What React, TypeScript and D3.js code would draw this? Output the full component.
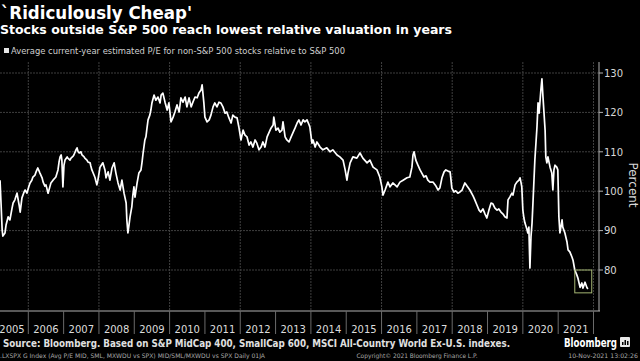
import React from "react";
import * as d3 from "d3";

const titleText = "`Ridiculously Cheap'";
const subtitleText = "Stocks outside S&P 500 reach lowest relative valuation in years";
const legendLabel = "Average current-year estimated P/E for non-S&P 500 stocks relative to S&P 500";
const sourceText = "Source: Bloomberg. Based on S&P MidCap 400, SmallCap 600, MSCI All-Country World Ex-U.S. indexes.";
const tickerText = ".LXSPX G Index (Avg P/E MID, SML, MXWDU vs SPX) MID/SML/MXWDU vs SPX  Daily 01JA";
const copyrightText = "Copyright\u00A9 2021 Bloomberg Finance L.P.";
const stampText = "10-Nov-2021 13:02:26";
const brandText = "Bloomberg";
const yAxisTitle = "Percent";

const yearLabels = [2005, 2006, 2007, 2008, 2009, 2010, 2011, 2012, 2013, 2014, 2015, 2016, 2017, 2018, 2019, 2020, 2021];
const yearBoundaries = [2006, 2007, 2008, 2009, 2010, 2011, 2012, 2013, 2014, 2015, 2016, 2017, 2018, 2019, 2020, 2021, 2022];
const gridYears = [2006, 2008, 2010, 2012, 2014, 2016, 2018, 2020, 2022];
const valueTicks = [80, 90, 100, 110, 120, 130];
const highlightYears = [2021.47, 2021.95];
const highlightValues = [74.2, 80];

// decimal years
const dates = [
  2005.20, 2005.23, 2005.26, 2005.28, 2005.34, 2005.37, 2005.43, 2005.48, 2005.54, 2005.57, 2005.62, 2005.68, 2005.74, 2005.77, 2005.82, 2005.88, 2005.91, 2005.96,
  2006.02, 2006.05, 2006.10, 2006.13, 2006.19, 2006.22, 2006.27, 2006.33, 2006.39, 2006.42, 2006.47, 2006.50, 2006.56, 2006.61, 2006.64, 2006.70, 2006.78, 2006.84, 2006.87, 2006.90, 2006.93, 2006.95, 2006.98,
  2007.01, 2007.04, 2007.10, 2007.12, 2007.18, 2007.21, 2007.27, 2007.29, 2007.35, 2007.38, 2007.41, 2007.44, 2007.49, 2007.52, 2007.58, 2007.60, 2007.66, 2007.69, 2007.75, 2007.77, 2007.80, 2007.86, 2007.89, 2007.92, 2007.94, 2007.97,
  2008.03, 2008.11, 2008.17, 2008.20, 2008.26, 2008.31, 2008.37, 2008.43, 2008.48, 2008.54, 2008.60, 2008.65, 2008.71, 2008.77, 2008.79, 2008.82, 2008.85, 2008.88, 2008.93, 2008.96, 2008.99,
  2009.02, 2009.08, 2009.13, 2009.19, 2009.22, 2009.25, 2009.30, 2009.33, 2009.36, 2009.39, 2009.44, 2009.47, 2009.50, 2009.56, 2009.61, 2009.67, 2009.73, 2009.76, 2009.81, 2009.87, 2009.93, 2009.98,
  2010.04, 2010.10, 2010.15, 2010.21, 2010.27, 2010.32, 2010.38, 2010.44, 2010.49, 2010.55, 2010.61, 2010.66, 2010.72, 2010.78, 2010.83, 2010.89, 2010.92, 2010.94, 2010.97,
  2011.00, 2011.06, 2011.12, 2011.17, 2011.23, 2011.28, 2011.34, 2011.40, 2011.45, 2011.51, 2011.57, 2011.62, 2011.68, 2011.74, 2011.79, 2011.85, 2011.91, 2011.96,
  2012.02, 2012.08, 2012.13, 2012.19, 2012.25, 2012.30, 2012.36, 2012.42, 2012.47, 2012.53, 2012.59, 2012.64, 2012.70, 2012.76, 2012.81, 2012.87, 2012.93, 2012.95,
  2013.01, 2013.07, 2013.12, 2013.18, 2013.21, 2013.27, 2013.32, 2013.38, 2013.44, 2013.49, 2013.55, 2013.61, 2013.66, 2013.72, 2013.78, 2013.83, 2013.89, 2013.95, 2013.97,
  2014.03, 2014.06, 2014.12, 2014.17, 2014.26, 2014.34, 2014.45, 2014.54, 2014.62, 2014.74, 2014.82, 2014.91, 2014.97,
  2015.02, 2015.05, 2015.11, 2015.19, 2015.30, 2015.39, 2015.47, 2015.59, 2015.67, 2015.76, 2015.87, 2015.95,
  2016.01, 2016.04, 2016.10, 2016.18, 2016.24, 2016.32, 2016.44, 2016.52, 2016.61, 2016.72, 2016.80, 2016.86, 2016.89, 2016.92, 2016.97,
  2017.03, 2017.09, 2017.14, 2017.20, 2017.26, 2017.31, 2017.37, 2017.46, 2017.54, 2017.60, 2017.65, 2017.71, 2017.77, 2017.82, 2017.88, 2017.94, 2017.96, 2017.99,
  2018.05, 2018.10, 2018.16, 2018.22, 2018.28, 2018.36, 2018.42, 2018.50, 2018.59, 2018.64, 2018.70, 2018.76, 2018.81, 2018.87, 2018.93, 2018.98,
  2019.04, 2019.10, 2019.15, 2019.21, 2019.27, 2019.32, 2019.38, 2019.44, 2019.49, 2019.55, 2019.58, 2019.63, 2019.69, 2019.72, 2019.78, 2019.83, 2019.89, 2019.92, 2019.95, 2019.97,
  2020.00, 2020.03, 2020.06, 2020.12, 2020.14, 2020.17, 2020.20, 2020.23, 2020.26, 2020.29, 2020.34, 2020.40, 2020.43, 2020.46, 2020.51, 2020.54, 2020.57, 2020.63, 2020.65, 2020.68, 2020.71, 2020.77, 2020.82, 2020.85, 2020.88, 2020.91, 2020.96, 2020.99,
  2021.02, 2021.05, 2021.11, 2021.13, 2021.19, 2021.25, 2021.28, 2021.33, 2021.39, 2021.42, 2021.47, 2021.53, 2021.56, 2021.62, 2021.67, 2021.70, 2021.76, 2021.81, 2021.84,
];

// relative P/E, percent
const values = [
  102.8, 96.5, 90.2, 88.6, 89.4, 91.4, 93.5, 92.7, 95.7, 97.0, 97.8, 99.5, 96.5, 94.7, 98.3, 99.8, 100.3, 99.5,
  101.3, 102.1, 102.8, 103.6, 104.1, 104.9, 105.9, 104.6, 103.4, 102.3, 101.3, 101.6, 99.5, 101.1, 102.1, 102.8, 103.6, 105.4, 107.4, 108.7, 109.2, 107.9, 101.1,
  106.6, 107.9, 108.7, 108.4, 107.9, 108.4, 108.9, 109.2, 110.5, 111.0, 110.0, 109.7, 110.0, 109.2, 108.7, 108.4, 107.9, 107.4, 107.2, 106.4, 105.4, 104.1, 103.4, 102.3, 101.6, 102.8,
  106.1, 107.2, 105.4, 103.4, 104.9, 102.8, 105.9, 107.2, 104.6, 102.1, 100.3, 102.8, 99.5, 97.0, 92.7, 89.4, 91.4, 93.5, 96.0, 99.0, 101.1,
  98.5, 102.1, 104.6, 105.4, 107.4, 109.7, 113.0, 113.8, 116.0, 118.1, 119.3, 120.6, 122.4, 124.4, 123.1, 123.9, 122.4, 124.4, 124.9, 122.6, 120.6, 122.4,
  117.6, 118.8, 120.1, 121.9, 120.1, 123.7, 122.6, 123.9, 121.4, 123.7, 121.4, 122.6, 123.9, 123.7, 124.9, 125.7, 127.0, 125.2, 122.4,
  118.8, 117.6, 118.1, 119.3, 121.4, 122.4, 121.4, 122.6, 122.4, 121.4, 119.8, 120.1, 118.6, 117.3, 119.3, 118.8, 118.6, 116.3,
  113.0, 115.5, 114.3, 113.8, 111.7, 112.5, 111.2, 113.0, 112.2, 110.5, 111.2, 112.5, 111.2, 113.8, 114.8, 116.0, 116.8, 118.8,
  115.5, 116.0, 115.0, 115.5, 117.6, 113.8, 113.0, 112.5, 113.8, 114.8, 116.0, 117.3, 118.1, 116.8, 118.1, 117.6, 118.1, 116.8, 116.3,
  112.2, 113.0, 111.2, 112.5, 111.2, 110.5, 111.0, 110.0, 110.5, 109.2, 108.7, 107.9, 105.4,
  102.8, 104.6, 107.2, 108.7, 108.4, 109.7, 108.4, 107.2, 107.9, 106.1, 105.4, 103.6,
  101.1, 99.0, 100.3, 102.3, 101.1, 102.1, 101.1, 102.3, 102.8, 103.4, 103.6, 106.1, 109.2, 110.0, 107.9,
  106.6, 105.4, 104.6, 103.6, 103.9, 102.8, 102.3, 102.3, 101.3, 100.3, 100.8, 103.4, 104.9, 105.4, 105.1, 104.9, 103.4, 100.8,
  99.8, 100.1, 99.5, 99.8, 100.3, 102.1, 101.3, 100.3, 98.8, 97.8, 96.5, 95.2, 94.7, 95.5, 94.2, 93.2,
  95.2, 97.0, 96.8, 95.7, 95.2, 95.5, 94.7, 94.2, 93.5, 93.2, 97.8, 98.5, 99.5, 99.0, 101.6, 102.3, 102.8, 103.4, 102.1, 101.1,
  95.2, 93.2, 91.9, 90.2, 89.4, 90.9, 80.5, 88.4, 91.9, 97.8, 107.9, 116.3, 122.4, 119.8, 125.7, 128.5, 123.9, 115.5, 108.7, 107.2, 108.7, 106.1, 104.6, 100.3, 105.4, 106.6, 106.1, 105.4,
  93.5, 89.4, 92.7, 90.9, 89.4, 87.1, 85.1, 84.6, 83.3, 82.5, 80.0, 78.7, 77.9, 75.6, 76.7, 75.4, 76.9, 75.6, 75.2,
];

const FONT = "'DejaVu Sans', Verdana, sans-serif";

export default function App() {
  const W = 640;
  const H = 361;
  const plot = { left: 0, right: 599, top: 62, bottom: 311 };

  const x = d3.scaleLinear().domain([2006, 2022]).range([28.3, 593.5]);
  const y = d3.scaleLinear().domain([80, 130]).range([270, 73]);

  const n = Math.min(dates.length, values.length);
  const idx = d3.range(n);
  const linePath = d3
    .line<number>()
    .x((i) => x(dates[i]))
    .y((i) => y(values[i]))(idx) || "";

  const hx0 = x(highlightYears[0]);
  const hx1 = x(highlightYears[1]);
  const hy0 = y(highlightValues[1]);
  const hy1 = y(highlightValues[0]);

  return (
    <div style={{ width: W, height: H, background: "#000" }}>
      <style>{`body{margin:0;background:#000;}`}</style>
      <svg width={W} height={H} viewBox={`0 0 ${W} ${H}`} style={{ display: "block", fontFamily: FONT }}>
        <rect x={0} y={0} width={W} height={H} fill="#000" />
        <defs>
          <clipPath id="plotClip">
            <rect x={plot.left} y={plot.top - 10} width={plot.right - plot.left} height={plot.bottom - plot.top + 10} />
          </clipPath>
        </defs>

        {/* Titles */}
        <text x={1} y={18.5} fill="#fff" fontSize={17} fontWeight="bold" textLength={191} lengthAdjust="spacingAndGlyphs">
          {titleText}
        </text>
        <text x={0} y={34.4} fill="#fff" fontSize={12.8} fontWeight="bold" textLength={452} lengthAdjust="spacingAndGlyphs">
          {subtitleText}
        </text>
        <rect x={4} y={48} width={5} height={5} fill="#e6e6e6" />
        <text x={11} y={54} fill="#d0d0d0" fontSize={9} textLength={334} lengthAdjust="spacingAndGlyphs">
          {legendLabel}
        </text>

        {/* Grid */}
        {valueTicks.map((v) => (
          <line key={"gy" + v} x1={plot.left} x2={plot.right} y1={y(v)} y2={y(v)} stroke="#3f3f3f" strokeWidth={1} strokeDasharray="2,1" />
        ))}
        {gridYears.map((yr) => (
          <line key={"gx" + yr} x1={x(yr)} x2={x(yr)} y1={plot.top} y2={plot.bottom} stroke="#3f3f3f" strokeWidth={1} strokeDasharray="2,1" />
        ))}

        {/* Series */}
        <g clipPath="url(#plotClip)">
          <path d={linePath} fill="none" stroke="#fff" strokeWidth={1.7} strokeLinejoin="round" />
        </g>

        {/* Highlight box */}
        <rect x={hx0} y={hy0} width={hx1 - hx0} height={hy1 - hy0} fill="none" stroke="#a4b573" strokeWidth={1} />

        {/* Right axis */}
        <line x1={plot.right} x2={plot.right} y1={plot.top} y2={plot.bottom} stroke="#b0b0b0" strokeWidth={1} />
        {valueTicks.map((v) => (
          <g key={"yt" + v}>
            <line x1={plot.right} x2={plot.right + 4} y1={y(v)} y2={y(v)} stroke="#b0b0b0" strokeWidth={1} />
            <text x={plot.right + 5} y={y(v) + 3.7} fill="#d8d8d8" fontSize={10}>
              {v}
            </text>
          </g>
        ))}
        <text
          transform={`translate(629,185) rotate(90)`}
          textAnchor="middle"
          fill="#d8d8d8"
          fontSize={12}
        >
          {yAxisTitle}
        </text>

        {/* Bottom axis */}
        <line x1={plot.left} x2={plot.right + 1} y1={plot.bottom} y2={plot.bottom} stroke="#b0b0b0" strokeWidth={1} />
        {yearBoundaries.map((yr) => (
          <line key={"yb" + yr} x1={x(yr)} x2={x(yr)} y1={plot.bottom} y2={334} stroke="#6a6a6a" strokeWidth={1} />
        ))}
        {yearLabels.map((yr) => (
          <text key={"yl" + yr} x={Math.max(x(yr + 0.5), 12)} y={333} textAnchor="middle" fill="#dcdcdc" fontSize={10}>
            {yr}
          </text>
        ))}

        {/* Footer */}
        <text x={3} y={346.6} fill="#e0e0e0" fontSize={10} fontWeight="bold" fontStretch="condensed" textLength={507} lengthAdjust="spacingAndGlyphs">
          {sourceText}
        </text>
        <text x={564} y={347} fill="#fff" fontSize={12.5} fontWeight="bold" textLength={53} lengthAdjust="spacingAndGlyphs">
          {brandText}
        </text>
        <g transform="translate(620,337)">
          <rect x={0} y={0} width={10} height={10} rx={1} fill="#e8e8e8" />
          <rect x={2} y={5} width={1.5} height={3} fill="#000" />
          <rect x={4.5} y={3} width={1.5} height={5} fill="#000" />
          <rect x={7} y={4} width={1.5} height={4} fill="#000" />
        </g>
        <text x={0} y={358} fill="#a8a8a8" fontSize={6.2} textLength={265} lengthAdjust="spacingAndGlyphs">
          {tickerText}
        </text>
        <text x={417} y={358} textAnchor="middle" fill="#a8a8a8" fontSize={6.2} textLength={121} lengthAdjust="spacingAndGlyphs">
          {copyrightText}
        </text>
        <text x={638} y={358} textAnchor="end" fill="#a8a8a8" fontSize={6.2}>
          {stampText}
        </text>
      </svg>
    </div>
  );
}
